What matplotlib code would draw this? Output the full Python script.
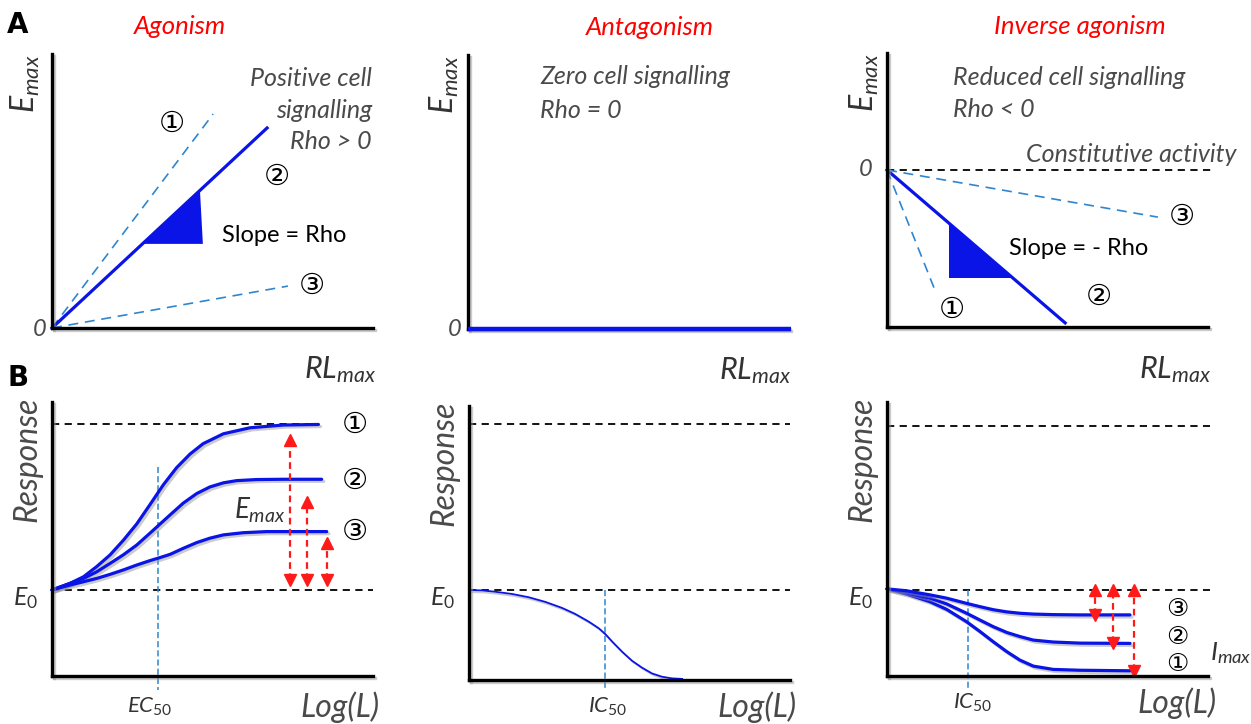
import matplotlib
matplotlib.use("Agg")
import matplotlib.pyplot as plt
import matplotlib.patheffects as pe

plt.rcParams['font.family'] = ['Lato', 'DejaVu Sans']
plt.rcParams['mathtext.fontset'] = 'custom'
plt.rcParams['mathtext.it'] = 'Lato:italic'
plt.rcParams['mathtext.rm'] = 'Lato'

# ---- panel A: Emax vs RLmax (x, y end points of each line) ----
agon_lines = {"1": (50.2, 78.1), "2": (67.0, 73.0), "3": (73.5, 15.3)}
agon_tri_x = [28.0, 46.1, 47.0]
agon_tri_y = [30.7, 50.0, 30.7]
agon_marks = {"①": (37.4, 74.5), "②": (70.1, 55.1), "③": (81.0, 15.3)}

antag_line_x = [0, 100.6]
antag_line_y = [0, 0]

inv_lines = {"1": (15.3, -44.9), "2": (55.5, -55.8), "3": (84.4, -17.2)}
inv_tri_x = [19.3, 19.3, 39.2]
inv_tri_y = [-19.4, -39.4, -39.4]
inv_marks = {"①": (20.2, -51.1), "②": (66.0, -46.4), "③": (91.9, -17.2)}

# ---- panel B: response curves (log L, response) ----
e0_b1 = 31.4
top_b1 = 91.8
b1_c1_x = [0, 5.6, 9.8, 13.9, 18.1, 22.2, 26.4, 30.5, 34.7, 38.8, 43.0, 47.1, 53.4, 61.7, 72.1, 83.0]
b1_c1_y = [31.4, 33.8, 36.2, 39.9, 44.2, 49.5, 55.5, 62.5, 69.8, 76.0, 81.0, 84.8, 88.4, 90.6, 91.6, 91.8]
b1_c2_x = [0, 5.6, 9.8, 13.9, 18.1, 22.2, 26.4, 30.5, 33.6, 36.8, 40.9, 45.1, 49.2, 53.4, 57.5, 63.8, 72.1, 84.0]
b1_c2_y = [31.4, 33.8, 35.6, 38.0, 41.1, 44.2, 47.8, 52.1, 55.4, 58.8, 63.1, 66.6, 69.0, 70.5, 71.3, 71.7, 71.8, 71.8]
b1_c3_x = [0, 5.6, 9.8, 13.9, 18.1, 22.2, 26.4, 30.5, 33.6, 36.8, 40.9, 45.1, 49.2, 53.4, 59.6, 66.9, 85.6]
b1_c3_y = [31.4, 33.2, 34.4, 35.6, 37.1, 38.7, 40.5, 42.1, 43.2, 44.4, 46.6, 48.7, 50.3, 51.5, 52.3, 52.7, 52.7]
b1_ec50 = 33.0
b1_arrow_x = [74.1, 79.4, 85.7]
b1_arrow_top = [86.1, 63.5, 48.5]
b1_arrow_bot = 35.0
b1_marks = {"①": 91.6, "②": 71.2, "③": 52.6}

e0_b2 = 32.8
top_b2 = 93.4
b2_x = [0, 4.0, 8.2, 13.4, 18.6, 23.8, 29.0, 33.1, 37.3, 40.4, 42.5, 44.6, 47.7, 50.8, 53.9, 57.0, 60.1, 63.2, 66.4]
b2_y = [32.8, 32.7, 32.2, 31.4, 30.2, 28.5, 26.3, 24.1, 21.3, 18.9, 16.7, 14.0, 10.3, 7.0, 4.5, 2.4, 1.2, 0.6, 0.4]
b2_ic50 = 42.4

e0_b3 = 31.4
top_b3 = 91.2
b3_x = [0, 6.1, 13.4, 18.6, 24.8, 29.0, 33.1, 37.3, 41.4, 45.6, 51.8, 60.1, 75.7]
b3_c3_y = [31.8, 31.1, 29.6, 28.4, 26.5, 25.3, 24.2, 23.4, 22.9, 22.6, 22.4, 22.3, 22.3]
b3_c2_y = [31.8, 30.4, 28.4, 26.3, 22.9, 20.4, 18.0, 15.9, 14.4, 13.1, 12.4, 12.0, 11.9]
b3_c1_y = [31.8, 29.9, 27.1, 24.3, 19.8, 16.2, 12.5, 8.9, 5.8, 3.6, 2.4, 2.1, 1.9]
b3_ic50 = 25.2
b3_arrow_x = [64.8, 70.4, 76.9]
b3_arrow_bot = [22.3, 11.9, 1.9]
b3_marks = {"③": 24.6, "②": 14.2, "①": 4.2}

BLUE = '#0a14e6'
LBLUE = '#2f86d0'
RED = '#ff1a1a'
GREY = '#4a4a4a'
DARK = '#333333'
shadow = [pe.SimpleLineShadow(offset=(1.5, -1.5), shadow_color='#999999', alpha=0.5), pe.Normal()]

W, H = 1251, 724
fig = plt.figure(figsize=(W / 100, H / 100), dpi=100)


def make_ax(x0, ybot, ylim=(0, 100)):
    ax = fig.add_axes([x0 / W, (H - ybot) / H, 321 / W, 274 / H])
    ax.set_xlim(0, 100)
    ax.set_ylim(*ylim)
    for s in ['top', 'right']:
        ax.spines[s].set_visible(False)
    for s in ['left', 'bottom']:
        ax.spines[s].set_linewidth(2.4)
        ax.spines[s].set_color('black')
        ax.spines[s].set_path_effects(shadow)
    ax.set_xticks([])
    ax.set_yticks([])
    ax.patch.set_alpha(0)
    return ax


def circled(ax, s, x, y, size=21):
    ax.text(x, y, s, fontsize=size, ha='center', va='center', family='DejaVu Sans', color='black')


def dbl_arrow(ax, x, y0, y1):
    ax.plot([x, x], [y0, y1], color=RED, lw=1.6, ls=(0, (3, 2)), clip_on=False)
    ax.plot([x], [max(y0, y1)], marker='^', color=RED, ms=8.5, clip_on=False)
    ax.plot([x], [min(y0, y1)], marker='v', color=RED, ms=8.5, clip_on=False)


italic = dict(style='italic', color=GREY)
TXT = 18
TITLE = 18.5

# ---------- A1 agonism ----------
ax = make_ax(52, 328)
for k, (x, y) in agon_lines.items():
    if k == "2":
        ax.plot([0, x], [0, y], color=BLUE, lw=2.3, clip_on=False)
    else:
        ax.plot([0, x], [0, y], color=LBLUE, lw=1.2, ls=(0, (6, 4)), clip_on=False)
ax.fill(agon_tri_x, agon_tri_y, color=BLUE, lw=0)
for s, (x, y) in agon_marks.items():
    circled(ax, s, x, y)
ax.text(53, 33.6, 'Slope = Rho', fontsize=17, va='center', color='black')
for txt, y in zip(['Positive cell', 'signalling', 'Rho > 0'], [91.2, 79.2, 67.9]):
    ax.text(99.7, y, txt, fontsize=TXT, ha='right', va='center', **italic)
ax.text(39.9, 109.9, 'Agonism', fontsize=TITLE, ha='center', va='center', style='italic', color='red')
ax.text(-3.7, -0.7, '0', fontsize=17, ha='center', va='center', **italic)
ax.text(-8.2, 89, r'$E_{max}$', fontsize=23, ha='center', va='center', rotation=90, color=DARK)
ax.text(89.7, -15.3, r'$RL_{max}$', fontsize=22, ha='center', va='center', color=DARK)

# ---------- A2 antagonism ----------
ax = make_ax(468, 329)
ax.plot(antag_line_x, antag_line_y, color=BLUE, lw=3.2, clip_on=False, solid_capstyle='butt', zorder=3)
ax.text(22.4, 92.0, 'Zero cell signalling', fontsize=TXT, va='center', **italic)
ax.text(22.4, 79.9, 'Rho = 0', fontsize=TXT, va='center', **italic)
ax.text(56.7, 110.2, 'Antagonism', fontsize=TITLE, ha='center', va='center', style='italic', color='red')
ax.text(-4.0, -0.3, '0', fontsize=17, ha='center', va='center', **italic)
ax.text(-7.2, 89, r'$E_{max}$', fontsize=23, ha='center', va='center', rotation=90, color=DARK)
ax.text(89.4, -15.3, r'$RL_{max}$', fontsize=22, ha='center', va='center', color=DARK)

# ---------- A3 inverse agonism ----------
ax = make_ax(887, 327, ylim=(-57.3, 42.7))
ax.plot([0, 101.6], [0, 0], color='black', lw=1.3, ls=(0, (4, 3)), clip_on=False)
for k, (x, y) in inv_lines.items():
    if k == "2":
        ax.plot([0, x], [0, y], color=BLUE, lw=2.3, clip_on=False)
    else:
        ax.plot([0, x], [0, y], color=LBLUE, lw=1.2, ls=(0, (6, 4)), clip_on=False)
ax.fill(inv_tri_x, inv_tri_y, color=BLUE, lw=0)
for s, (x, y) in inv_marks.items():
    circled(ax, s, x, y)
ax.text(38.0, -28.5, 'Slope = - Rho', fontsize=17, va='center', color='black')
ax.text(20.6, 33.9, 'Reduced cell signalling', fontsize=TXT, va='center', **italic)
ax.text(20.6, 21.9, 'Rho < 0', fontsize=TXT, va='center', **italic)
ax.text(109, 5.5, 'Constitutive activity', fontsize=TXT, ha='right', va='center', **italic)
ax.text(60.1, 52.2, 'Inverse agonism', fontsize=TITLE, ha='center', va='center', style='italic', color='red')
ax.text(-6.5, 0, '0', fontsize=17, ha='center', va='center', **italic)
ax.text(-7.0, 32, r'$E_{max}$', fontsize=23, ha='center', va='center', rotation=90, color=DARK)
ax.text(89.7, -73, r'$RL_{max}$', fontsize=22, ha='center', va='center', color=DARK)


def b_common(ax, e0, top, top_end, e0_end):
    ax.plot([0, top_end], [top, top], color='black', lw=1.3, ls=(0, (4, 3)), clip_on=False)
    ax.plot([0, e0_end], [e0, e0], color='black', lw=1.3, ls=(0, (4, 3)), clip_on=False)
    ax.text(-8.4, e0 - 2.8, r'$E_{\mathit{0}}$', fontsize=18, ha='center', va='center', color=DARK)
    ax.text(-7.6, 79, 'Response', fontsize=23, ha='center', va='center', rotation=90, **italic)


# ---------- B1 ----------
ax = make_ax(52, 676)
b_common(ax, e0_b1, top_b1, 83.0, 100)
ax.plot([b1_ec50, b1_ec50], [76.3, -5.1], color=LBLUE, lw=1.1, ls=(0, (4, 2)), clip_on=False)
for xs, ys in [(b1_c1_x, b1_c1_y), (b1_c2_x, b1_c2_y), (b1_c3_x, b1_c3_y)]:
    ax.plot(xs, ys, color=BLUE, lw=2.3, path_effects=shadow, clip_on=False,
            solid_capstyle='round', solid_joinstyle='round')
for x, yt in zip(b1_arrow_x, b1_arrow_top):
    dbl_arrow(ax, x, b1_arrow_bot, yt)
for s, y in b1_marks.items():
    circled(ax, s, 94.4, y)
ax.text(64.8, 60.6, r'$E_{max}$', fontsize=20, ha='center', va='center', color=DARK)
ax.text(30.5, -11.3, r'$\mathit{EC}_{\mathit{50}}$', fontsize=16, ha='center', va='center', color=DARK)
ax.text(89.7, -11.3, 'Log(L)', fontsize=23, ha='center', va='center', **italic)
fig.text(18 / W, 1 - 25 / H, 'A', fontsize=20, fontweight='bold', ha='center', va='center', family='DejaVu Sans')
fig.text(18 / W, 1 - 378 / H, 'B', fontsize=20, fontweight='bold', ha='center', va='center', family='DejaVu Sans')

# ---------- B2 ----------
ax = make_ax(469, 680)
b_common(ax, e0_b2, top_b2, 100, 100)
ax.plot([b2_ic50, b2_ic50], [33, -3], color=LBLUE, lw=1.1, ls=(0, (4, 2)), clip_on=False)
ax.plot(b2_x, b2_y, color=BLUE, lw=1.3, path_effects=shadow, clip_on=False, solid_joinstyle='round')
ax.text(43.3, -9.9, r'$\mathit{IC}_{\mathit{50}}$', fontsize=16, ha='center', va='center', color=DARK)
ax.text(89.7, -9.9, 'Log(L)', fontsize=23, ha='center', va='center', **italic)

# ---------- B3 ----------
ax = make_ax(887, 676)
b_common(ax, e0_b3, top_b3, 100.6, 100.6)
ax.plot([b3_ic50, b3_ic50], [31.4, -5], color=LBLUE, lw=1.1, ls=(0, (4, 2)), clip_on=False)
for ys in [b3_c1_y, b3_c2_y, b3_c3_y]:
    ax.plot(b3_x, ys, color=BLUE, lw=2.3, path_effects=shadow, clip_on=False,
            solid_capstyle='round', solid_joinstyle='round')
for x, yb in zip(b3_arrow_x, b3_arrow_bot):
    dbl_arrow(ax, x, yb, e0_b3)
for s, y in b3_marks.items():
    circled(ax, s, 90.3, y, size=18)
ax.text(107.2, 8.4, r'$I_{max}$', fontsize=19, ha='center', va='center', color=DARK)
ax.text(26.8, -9.9, r'$\mathit{IC}_{\mathit{50}}$', fontsize=16, ha='center', va='center', color=DARK)
ax.text(90.3, -9.9, 'Log(L)', fontsize=23, ha='center', va='center', **italic)

fig.savefig('out.png', dpi=100)
